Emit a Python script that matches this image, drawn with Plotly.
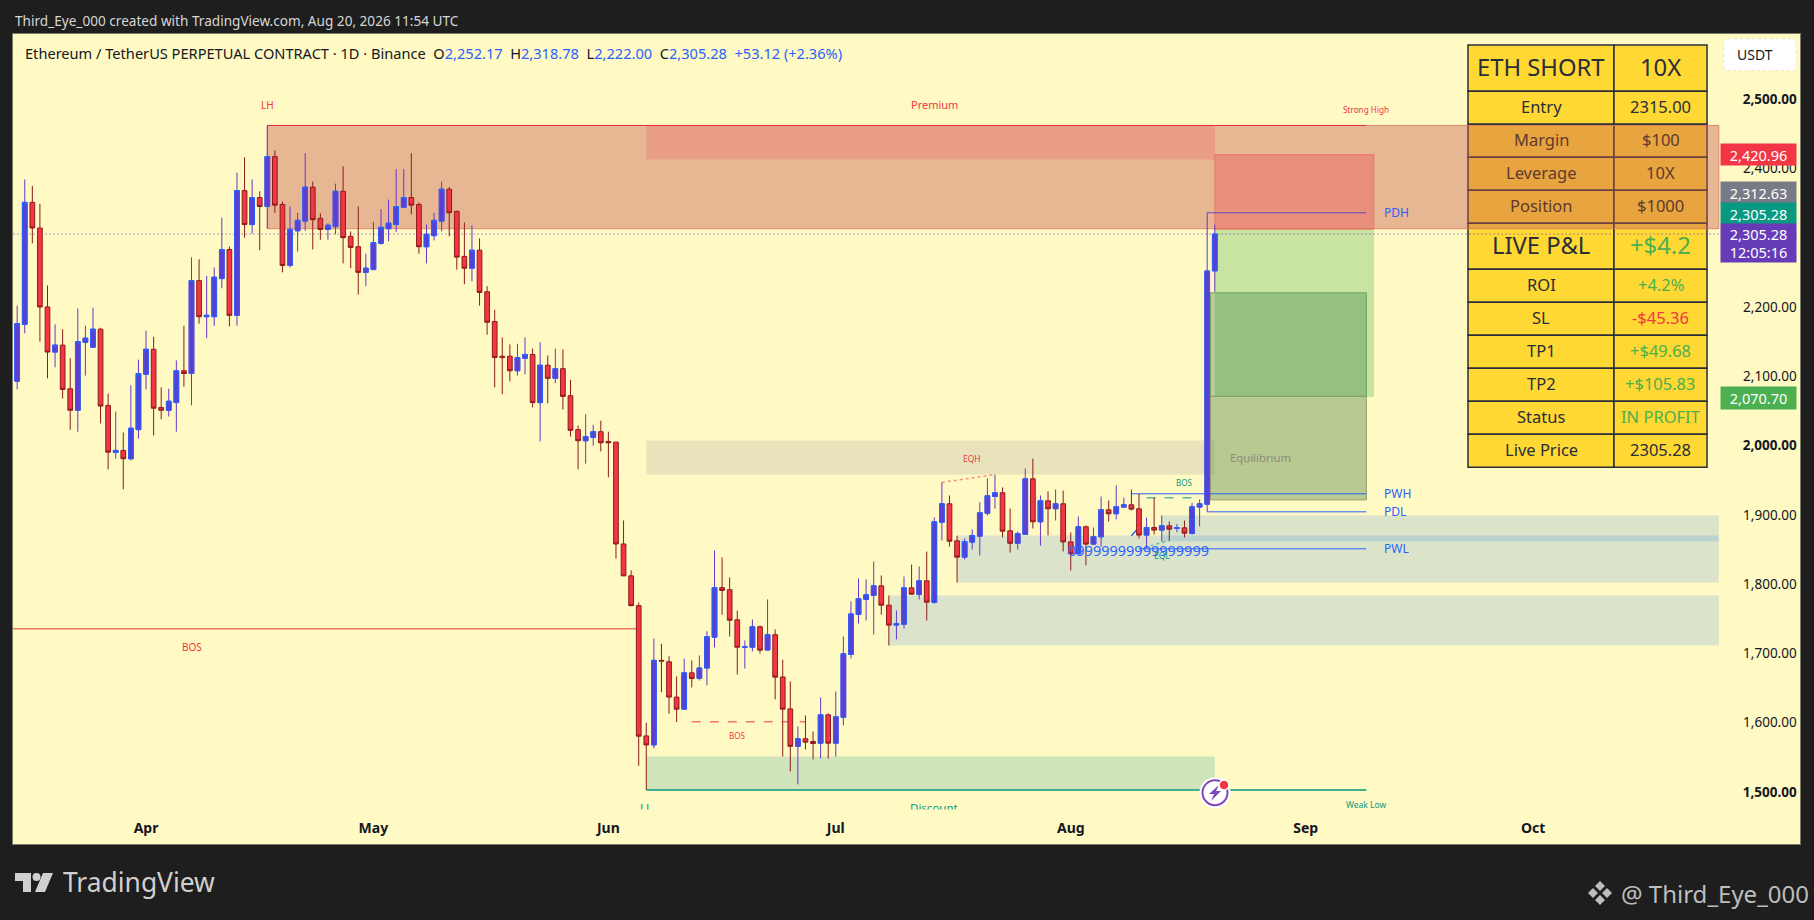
import pandas as pd
import plotly.graph_objects as go

# ---- chart values ----
dates = pd.date_range("2026-03-15", periods=159)

opens = [2093, 2175, 2351, 2314, 2200, 2135, 2145, 2082, 2051, 2149, 2142, 2168, 2058, 1990, 1993, 1981, 2023, 2103, 2139, 2055,
         2051, 2062, 2108, 2104, 2238, 2186, 2186, 2241, 2283, 2188, 2368, 2319, 2358, 2345, 2417, 2348, 2260, 2310, 2324, 2373,
         2328, 2312, 2316, 2367, 2302, 2287, 2250, 2254, 2292, 2313, 2319, 2344, 2358, 2348, 2287, 2303, 2324, 2370, 2338, 2273,
         2256, 2282, 2222, 2179, 2129, 2129, 2108, 2126, 2131.5, 2062, 2116, 2097, 2111, 2072, 2023, 2007, 2012, 2020, 2006, 2005,
         1858, 1812, 1769, 1581, 1568, 1690, 1688, 1637, 1619.6, 1672, 1664, 1679, 1723.5, 1795, 1792, 1748.5, 1709, 1709, 1738.5, 1705,
         1727, 1666, 1620, 1566, 1577, 1573, 1570.5, 1611.4, 1570.5, 1608, 1698.5, 1756.3, 1778, 1783.7, 1797.6, 1769.7, 1741, 1742.3, 1794.7, 1785,
         1804.8, 1773.6, 1889.5, 1916, 1862.6, 1839, 1860.7, 1869.3, 1902.5, 1926.6, 1931.9, 1877, 1859, 1871.7, 1952, 1890, 1920.3, 1908.8, 1916, 1861,
         1843.8, 1882.8, 1857.8, 1868.4, 1907.3, 1901.6, 1911.2, 1914.5, 1908.8, 1870.8, 1881.8, 1878, 1884.2, 1880.4, 1881.3, 1873.2, 1911.2, 1915.5, 2252.17]
highs = [2202, 2384, 2375, 2349, 2231, 2175, 2168, 2126, 2198, 2173, 2199, 2170, 2075, 2049, 2019, 2087, 2124, 2166, 2157, 2084,
         2082, 2123, 2173, 2271.5, 2269, 2245, 2257, 2329, 2287.4, 2394, 2416, 2384, 2367, 2462, 2426, 2352, 2345, 2336, 2422, 2381,
         2335, 2321, 2378, 2403, 2309, 2345, 2277, 2323, 2341, 2355, 2399, 2399, 2422, 2351, 2319, 2336, 2381, 2373, 2339, 2322,
         2318, 2299, 2230, 2196, 2156, 2146, 2147, 2156, 2140, 2149, 2130, 2140, 2139, 2095, 2029, 2045, 2030, 2036, 2020, 2005,
         1892, 1820, 1773.6, 1600, 1721.6, 1714, 1696, 1667, 1692.7, 1690, 1697, 1732, 1848.6, 1838.5, 1809.6, 1762, 1718.7, 1749, 1740.4, 1778,
         1734.6, 1691, 1659.6, 1594.6, 1610.5, 1587.4, 1636.5, 1613.4, 1645, 1724.5, 1775, 1808.2, 1806.8, 1832.7, 1812.5, 1783.7, 1762, 1811, 1828.4, 1825.5,
         1847, 1896.3, 1946.8, 1928, 1870, 1866, 1879, 1918, 1952.5, 1958.3, 1939.6, 1909.2, 1876, 1967, 1981.4, 1928, 1933.8, 1936.7, 1935, 1874.6,
         1897.7, 1884.7, 1881.8, 1926.6, 1920.8, 1942.4, 1925, 1936.7, 1930.4, 1896, 1925, 1899.1, 1890.5, 1886.6, 1891.9, 1917.4, 1922.2, 2336, 2318.78]
lows = [2081, 2162, 2292, 2150, 2097, 2113, 2068, 2023, 2020, 2101, 2142, 2032, 1965.5, 1981, 1937, 1978.5, 2010, 2081, 2014.5, 2038,
        2042, 2020, 2085, 2058, 2176, 2155, 2173, 2227, 2172, 2173, 2300, 2306, 2282, 2313, 2336, 2250, 2257, 2280, 2310, 2283,
        2297, 2297, 2305, 2263, 2256, 2218, 2230, 2254, 2290, 2295, 2308, 2344, 2333.6, 2277, 2263, 2296, 2309, 2302, 2254, 2233,
        2237, 2202, 2160, 2084, 2074, 2092.5, 2101, 2103, 2055, 2006, 2061, 2090, 2052, 2013, 1965.5, 1974, 2000, 1991.5, 1954, 1837,
        1812, 1768, 1538, 1503, 1563, 1644, 1613, 1601, 1619.6, 1651, 1661, 1654, 1708.6, 1756, 1724.5, 1669.7, 1678.3, 1702.8, 1700, 1705,
        1633.6, 1551.3, 1529.7, 1511, 1561.4, 1547, 1548.4, 1548.4, 1551, 1596, 1692.8, 1743.3, 1747.6, 1727.4, 1756, 1711.5, 1720.2, 1736, 1785, 1778,
        1747.6, 1772, 1863, 1854.4, 1802.4, 1835.6, 1850, 1841.4, 1899, 1909.2, 1867.4, 1845.7, 1850, 1871.7, 1880.4, 1855.8, 1870.3, 1891.9, 1847.2, 1819.8,
        1842.8, 1827, 1857, 1854, 1890.5, 1893.4, 1910.7, 1906.4, 1866, 1851.5, 1871.7, 1861.6, 1863, 1875, 1867.4, 1871.7, 1883.3, 1904.4, 2222]
closes = [2176, 2351, 2314, 2200, 2135, 2145, 2081, 2051, 2150, 2155, 2168, 2057, 1990.5, 1993, 1981, 2025, 2104, 2139, 2054, 2051,
          2064, 2108, 2104, 2238, 2186, 2188, 2243, 2283, 2188, 2368, 2319, 2358, 2345, 2417, 2347, 2260, 2312, 2325, 2373, 2326,
          2312, 2318, 2367, 2300, 2286, 2250, 2256, 2293, 2315, 2321, 2345, 2358, 2347, 2287, 2305, 2325, 2370, 2336, 2272, 2256,
          2282, 2221, 2178, 2127, 2127, 2108, 2127, 2131.5, 2062, 2116, 2097, 2111, 2071, 2022, 2007, 2013, 2020, 2004, 2004, 1858,
          1812, 1769, 1580.6, 1568, 1690, 1689, 1637, 1619.6, 1672, 1664, 1679, 1724, 1795, 1791, 1748, 1709, 1710, 1738.5, 1704.8, 1727,
          1665.8, 1619.6, 1566, 1576.8, 1572, 1570, 1611.4, 1570.5, 1608.6, 1699.5, 1757, 1778.9, 1784.6, 1797.6, 1769.7, 1740.9, 1743, 1794.7, 1785.6, 1804.8,
          1774, 1890, 1916, 1862, 1839, 1861.6, 1870.3, 1903, 1927.5, 1931.9, 1876.5, 1859, 1873, 1952, 1890, 1920.3, 1908.8, 1916, 1861, 1843.8,
          1882.8, 1857.8, 1868.4, 1907.3, 1901.6, 1911.6, 1914.5, 1908.3, 1870.8, 1881.8, 1878, 1884.2, 1879.4, 1881.3, 1873.6, 1911.6, 1916, 2252, 2305.28]

y_ticks = [1500, 1600, 1700, 1800, 1900, 2000, 2100, 2200, 2300, 2400, 2500]
bold_ticks = [1500, 2000, 2500]
month_ticks = ["2026-04-01", "2026-05-01", "2026-06-01", "2026-07-01", "2026-08-01", "2026-09-01", "2026-10-01"]
month_names = ["Apr", "May", "Jun", "Jul", "Aug", "Sep", "Oct"]

table_names = ["ETH SHORT", "Entry", "Margin", "Leverage", "Position", "LIVE P&L",
               "ROI", "SL", "TP1", "TP2", "Status", "Live Price"]
table_values = ["10X", "2315.00", "$100", "10X", "$1000", "+$4.2",
                "+4.2%", "-$45.36", "+$49.68", "+$105.83", "IN PROFIT", "2305.28"]

# ---- page geometry ----
W, H = 1814, 920
LEFT, TOP, RIGHT, BOTTOM = 13, 34, 1800, 844
FONT = "Noto Sans"
BG = "#1E1E1E"
PANEL = "#FFF9C4"
RED = "#F23645"
BLUE = "#2962FF"
TEAL = "#089981"
GREEN = "#4CAF50"
INK = "#2A2E39"
FVG = "rgba(30,120,240,0.16)"
DOTTED = "1px,3px"


def fx(px):
    return (px - LEFT) / (RIGHT - LEFT)


def fy(py):
    return 1 - (py - TOP) / (BOTTOM - TOP)


def poly(points):
    return "M" + " L".join(f"{fx(a):.5f},{fy(b):.5f}" for a, b in points) + " Z"


def page_shape(points, color):
    return dict(type="path", xref="paper", yref="paper", path=poly(points),
                fillcolor=color, line=dict(width=0), layer="above")


def page_circle(cx, cy, r, fill, line_color=None, line_width=0):
    return dict(type="circle", xref="paper", yref="paper", x0=fx(cx - r), x1=fx(cx + r),
                y0=fy(cy + r), y1=fy(cy - r), fillcolor=fill, layer="above",
                line=dict(color=line_color or fill, width=line_width))


def label(text, x, y, color, size=11, anchor="center"):
    return dict(text=text, x=x, y=y, xref="x", yref="y", showarrow=False, xanchor=anchor,
                font=dict(family=FONT, size=size, color=color))


def page_text(text, px, py, color, size, anchor="left", family=FONT):
    return dict(text=text, x=fx(px), y=fy(py), xref="paper", yref="paper", showarrow=False,
                xanchor=anchor, yanchor="middle", font=dict(family=family, size=size, color=color))


def zone(x0, x1, y0, y1, fill, line_color=None):
    return dict(type="rect", xref="x", yref="y", x0=x0, x1=x1, y0=y0, y1=y1, fillcolor=fill, layer="below",
                line=dict(color=line_color or "rgba(0,0,0,0)", width=1))


def level(x0, x1, y0, color, dash="solid", width=1, y1=None):
    return dict(type="line", xref="x", yref="y", x0=x0, x1=x1, y0=y0, y1=y0 if y1 is None else y1,
                layer="below", line=dict(color=color, width=width, dash=dash))


shapes = []
annotations = []

# ---- the position table sits under the premium zone, so it is drawn first ----
row_edges = [45, 91.3, 124.3, 157.3, 190.3, 223.3, 269.3, 302.3, 335.3, 368.3, 401.3, 434.3, 467.3]
col_edges = [1468, 1614, 1707]
tinted = ["Margin", "Leverage", "Position"]
big_rows = ["ETH SHORT", "LIVE P&L"]
for i, name in enumerate(table_names):
    top, bottom = row_edges[i], row_edges[i + 1]
    for c in range(2):
        shapes.append(dict(type="rect", xref="paper", yref="paper", layer="below",
                           x0=fx(col_edges[c]), x1=fx(col_edges[c + 1]), y0=fy(bottom), y1=fy(top),
                           fillcolor="#FFD833", line=dict(color=INK, width=1.5)))
    value = table_values[i]
    size = 23.8 if name in big_rows else 16.5
    ink = "#5E3A2E" if name in tinted else INK
    value_ink = ink
    if value.startswith("+") or value == "IN PROFIT":
        value_ink = GREEN
    elif value.startswith("-"):
        value_ink = RED
    mid = (top + bottom) / 2 - 1
    annotations.append(page_text(name.replace("&", "&amp;"), (col_edges[0] + col_edges[1]) / 2, mid, ink, size, "center"))
    annotations.append(page_text(value, (col_edges[1] + col_edges[2]) / 2, mid, value_ink, size, "center"))

# ---- zones ----
shapes += [
    zone("2026-04-17", "2026-10-25 12:00", 2313, 2462, "rgba(198,92,80,0.42)", "rgba(214,120,100,0.8)"),
    zone("2026-06-06", "2026-08-20", 2413, 2462, "rgba(242,54,69,0.20)"),
    zone("2026-08-20", "2026-09-10", 2312, 2420, "rgba(242,54,69,0.30)", "rgba(242,54,69,0.35)"),
    zone("2026-08-20", "2026-09-10", 2070, 2312, "rgba(76,175,80,0.30)"),
    zone("2026-06-06", "2026-08-20", 1958.3, 2007.4, "rgba(102,102,143,0.15)"),
    zone("2026-08-19 10:00", "2026-09-09", 2071, 2220.5, "rgba(60,130,70,0.36)", "#66A860"),
    zone("2026-08-19 10:00", "2026-09-09", 1921.7, 2071, "rgba(100,142,87,0.45)", "#8E9E6E"),
    zone("2026-07-17", "2026-10-25 12:00", 1802.4, 1870.3, FVG),
    zone("2026-08-13", "2026-10-25 12:00", 1861.6, 1899, FVG),
    zone("2026-07-08", "2026-10-25 12:00", 1711.5, 1783.7, FVG),
    zone("2026-06-06", "2026-08-20", 1503, 1551.3, "rgba(63,169,152,0.25)"),
]

# ---- levels and structure lines ----
shapes += [
    level("2026-03-14", "2026-10-25 12:00", 2305.28, "#5E35B1", DOTTED),
    level("2026-04-17", "2026-09-09", 2462, "#E0304A"),
    level("2026-06-06", "2026-09-09", 1503, TEAL, width=1.5),
    level("2026-03-14", "2026-06-05", 1735.5, "#E53935"),
    level("2026-06-12", "2026-06-27", 1601.3, "#F23645", "dash"),
    level("2026-07-15", "2026-07-22", 1946.8, "rgba(242,54,69,0.55)", "dot", 1.5, y1=1958.3),
    level("2026-08-19", "2026-09-09", 2336, "#5C50C0"),
    level("2026-08-09", "2026-09-09", 1930.4, BLUE),
    level("2026-08-19", "2026-09-09", 1904.4, BLUE),
    level("2026-08-10", "2026-09-09", 1851, BLUE),
    level("2026-08-11", "2026-08-18", 1924.6, TEAL, "dash"),
    level("2026-08-10", "2026-08-14", 1851, "rgba(8,153,129,0.5)", "dot", 1.5, y1=1863),
    level("2026-08-09", "2026-08-10", 1870, BLUE, width=1.5, y1=1882),
]

# ---- labels on the chart ----
annotations += [
    label("LH", "2026-04-17", 2491, RED, 10),
    label("Premium", "2026-07-14", 2492, RED),
    label("Strong High", "2026-09-09", 2485, RED, 8.2),
    label("BOS", "2026-04-07", 1709, RED, 10),
    label("BOS", "2026-06-18", 1581.5, RED, 8),
    label("EQH", "2026-07-19", 1981.4, RED, 8.5),
    label("BOS", "2026-08-16", 1946.7, TEAL, 8),
    label("EQL", "2026-08-13", 1841.4, TEAL, 8.5),
    label("Equilibrium", "2026-08-26", 1983, "#8B8B7C", 11.3),
    label("09999999999999999", "2026-08-10", 1848.6, BLUE, 14.5),
    label("PDH", "2026-09-11", 2337, BLUE, 12, "left"),
    label("PWH", "2026-09-11", 1931, BLUE, 12, "left"),
    label("PDL", "2026-09-11", 1905, BLUE, 12, "left"),
    label("PWL", "2026-09-11", 1851, BLUE, 12, "left"),
    label("Weak Low", "2026-09-09", 1482, TEAL, 8.5),
    label("LL", "2026-06-06", 1477, TEAL, 11.5),
    label("Discount", "2026-07-14", 1477, TEAL, 11.5),
]
# the two bottom labels are cut off in the source, this hides their lower half
annotations.append(dict(text="\u00a0", x=fx(620), y=fy(809), xref="paper", yref="paper", showarrow=False,
                        xanchor="left", yanchor="top", width=360, height=11, bgcolor=PANEL, borderpad=0))

# ---- header and footer text ----
ohlc = "".join(f"  {k}<span style='color:{BLUE}'>{v}</span>" for k, v in
               [("O", "2,252.17"), ("H", "2,318.78"), ("L", "2,222.00"), ("C", "2,305.28")])
annotations += [
    page_text("Third_Eye_000 created with TradingView.com, Aug 20, 2026 11:54 UTC", 13, 20, "#D6D6D6", 13.6),
    page_text("Ethereum / TetherUS PERPETUAL CONTRACT · 1D · Binance" + ohlc
              + f"  <span style='color:{BLUE}'>+53.12 (+2.36%)</span>", 23, 53, "#131722", 14.6),
    page_text("TradingView", 61, 882, "#D0D0D0", 26.4),
    page_text("@ Third_Eye_000", 1619, 893, "#BDBDBD", 24),
    page_text("USDT", 1735, 55, "#131722", 14),
]

# ---- price tags on the axis ----
tags = [("2,420.96", 143, 21, RED), ("2,312.63", 181, 21, "#787B86"), ("2,305.28", 202, 21, TEAL),
        ("2,305.28<br>12:05:16", 223, 38, "#673AB7"), ("2,070.70", 386, 21.5, GREEN)]
for text, top, height, color in tags:
    annotations.append(dict(text=text, x=fx(1720), y=fy(top), xref="paper", yref="paper", showarrow=False,
                            xanchor="left", yanchor="top", width=75, height=height, bgcolor=color, borderpad=0,
                            font=dict(family=FONT, size=14.5, color="#FFFFFF")))

# ---- USDT button, logos and the small alert badge ----
ux0, ux1, uy0, uy1, ur = fx(1724), fx(1796), fy(39), fy(70.5), 4
rx, ry = ur / (RIGHT - LEFT), ur / (BOTTOM - TOP)
shapes.append(dict(type="path", xref="paper", yref="paper", layer="above", fillcolor="#FFFFFF",
                   line=dict(color="#E6E6E6", width=1, dash="dot"),
                   path=(f"M{ux0 + rx},{uy0} L{ux1 - rx},{uy0} Q{ux1},{uy0} {ux1},{uy0 - ry} L{ux1},{uy1 + ry} "
                         f"Q{ux1},{uy1} {ux1 - rx},{uy1} L{ux0 + rx},{uy1} Q{ux0},{uy1} {ux0},{uy1 + ry} "
                         f"L{ux0},{uy0 - ry} Q{ux0},{uy0} {ux0 + rx},{uy0} Z")))

shapes += [
    page_shape([(15, 873), (31, 873), (31, 892), (23, 892), (23, 881), (15, 881)], "#D0D0D0"),
    page_circle(36.5, 877, 4, "#D0D0D0"),
    page_shape([(43, 873), (53, 873), (45, 892), (35, 892)], "#D0D0D0"),
    page_shape([(1600, 881), (1605, 886), (1600, 891), (1595, 886)], "#BDBDBD"),
    page_shape([(1600, 895), (1605, 900), (1600, 905), (1595, 900)], "#BDBDBD"),
    page_shape([(1593, 888), (1598, 893), (1593, 898), (1588, 893)], "#BDBDBD"),
    page_shape([(1607, 888), (1612, 893), (1607, 898), (1602, 893)], "#BDBDBD"),
    page_circle(1215, 792.7, 15.5, "#FFFFFF"),
    page_circle(1215, 792.7, 12.5, "#FFFFFF", "#7E47B8", 2),
    page_shape([(1219, 785), (1209, 794), (1214, 794), (1211, 801), (1221, 791), (1216, 791)], "#7E47B8"),
    page_circle(1224, 785, 5, "#F23645", "#FFFFFF", 1.5),
]

# ---- candles ----
fig = go.Figure()
# first trace carries the wicks, second only the up bodies which have a blue edge
fig.add_trace(go.Candlestick(
    x=dates, open=opens, high=highs, low=lows, close=closes, whiskerwidth=0, hoverinfo="skip",
    increasing=dict(line=dict(color="#6A35C8", width=1), fillcolor="#5B3FD0"),
    decreasing=dict(line=dict(color="#8E1B1B", width=1), fillcolor=RED),
))
up = [i for i in range(len(dates)) if closes[i] >= opens[i]]
fig.add_trace(go.Candlestick(
    x=[dates[i] for i in up], open=[opens[i] for i in up], close=[closes[i] for i in up],
    high=[closes[i] for i in up], low=[opens[i] for i in up], whiskerwidth=0, hoverinfo="skip",
    increasing=dict(line=dict(color=BLUE, width=1), fillcolor="#5B3FD0"),
))

fig.update_layout(
    width=W, height=H, autosize=False, showlegend=False, paper_bgcolor=BG, plot_bgcolor=PANEL,
    margin=dict(l=LEFT, r=W - RIGHT, t=TOP, b=H - BOTTOM), boxgap=0.38, boxgroupgap=0, boxmode="overlay",
    shapes=shapes, annotations=annotations, font=dict(family=FONT),
)
fig.update_xaxes(
    type="date", range=["2026-03-14 10:48", "2026-11-05 05:00"], rangeslider_visible=False,
    tickvals=month_ticks, ticktext=[f"<b>{m}</b>" for m in month_names], ticklabelposition="inside", ticks="",
    ticklabelstandoff=8, showgrid=False,
    tickfont=dict(family=FONT, size=14, color="#131722"), showline=True, mirror=True, linecolor="#7A7A68", linewidth=1,
    zeroline=False,
)
fig.update_yaxes(
    range=[1425, 2594], side="right", ticklabelposition="inside", ticks="", ticklabelstandoff=3,
    showgrid=False, zeroline=False, tickvals=y_ticks,
    ticktext=[f"<b>{v:,.2f}</b>" if v in bold_ticks else f"{v:,.2f}" for v in y_ticks],
    tickfont=dict(family=FONT, size=13.5, color="#131722"), showline=True, mirror=True, linecolor="#7A7A68", linewidth=1,
)

fig.write_html("out.html", config=dict(displayModeBar=False),
               post_script="document.body.style.margin='0';document.body.style.overflow='hidden';")
